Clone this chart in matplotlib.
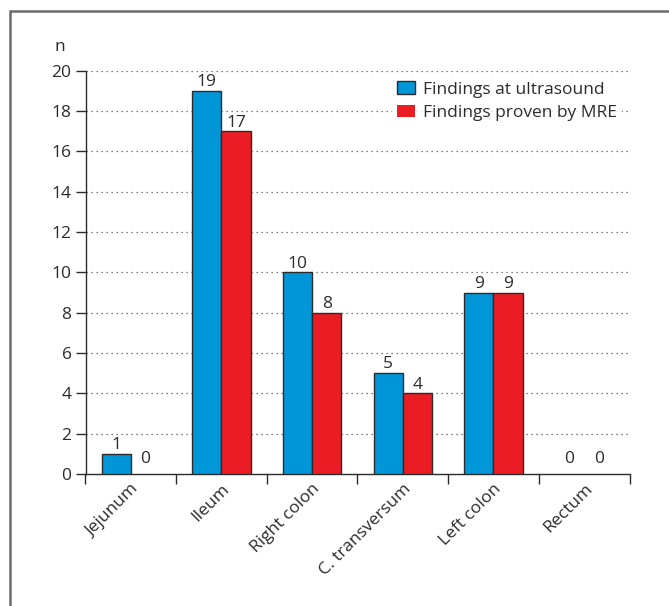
import numpy as np
import matplotlib
matplotlib.use('Agg')
import matplotlib.pyplot as plt
from matplotlib.patches import Rectangle

plt.rcParams['font.family'] = ['Open Sans', 'DejaVu Sans']

# data
segments = ['Jejunum', 'Ileum', 'Right colon', 'C. transversum', 'Left colon', 'Rectum']
ultrasound = [1, 19, 10, 5, 9, 0]
mre = [0, 17, 8, 4, 9, 0]
series_names = ['Findings at ultrasound', 'Findings proven by MRE']

blue = '#0096d8'
red = '#ec1c24'
ink = '#2b2b2b'
fs = 12.5

fig = plt.figure(figsize=(6.69, 6.06), dpi=100)
ax = fig.add_axes([85.5 / 669, 1 - 474 / 606, 544 / 669, 403.3 / 606])

# outer frame (runs off the right and bottom of the picture)
fig.patches.append(Rectangle((10 / 669, -0.1), 1.2, 1.1 - 11 / 606, transform=fig.transFigure,
                             fill=False, edgecolor='#6b6b6b', linewidth=1.8))

x = np.arange(len(segments))
w = 0.323
lw1 = [1.0 if v > 0 else 0 for v in ultrasound]
lw2 = [1.0 if v > 0 else 0 for v in mre]
b1 = ax.bar(x - w / 2, ultrasound, w, color=blue, edgecolor=ink, linewidth=lw1, zorder=3,
            label=series_names[0])
b2 = ax.bar(x + w / 2, mre, w, color=red, edgecolor=ink, linewidth=lw2, zorder=3,
            label=series_names[1])

for bars, vals in ((b1, ultrasound), (b2, mre)):
    for rect, v in zip(bars, vals):
        off = 5 if v == 0 else 0.5
        ax.annotate(str(v), (rect.get_x() + rect.get_width() / 2, v), xytext=(0, off),
                    textcoords='offset points', ha='center', va='bottom', fontsize=fs, color=ink)

ax.set_xlim(-0.5, len(segments) - 0.5)
ax.set_ylim(0, 20)
ax.set_yticks(np.arange(0, 21, 2))
for yv in np.arange(2, 21, 2):
    ax.axhline(yv, color='#555555', linestyle=(0, (1, 3)), linewidth=0.9,
               zorder=6 if yv == 20 else 1)

ax.set_xticks(np.arange(-0.5, len(segments), 1))
ax.set_xticklabels([])
ax.set_xticks(x, minor=True)
ax.set_xticklabels(segments, minor=True, rotation=45, ha='right', va='top',
                   rotation_mode='anchor', fontsize=fs, color=ink)
ax.tick_params(axis='x', which='minor', length=0, pad=5)
ax.tick_params(axis='x', which='major', length=7, width=1, color=ink, direction='out')
ax.tick_params(axis='y', length=7, width=1, color=ink, labelsize=fs, labelcolor=ink, pad=3)

for side in ('top', 'right'):
    ax.spines[side].set_visible(False)
for side in ('left', 'bottom'):
    ax.spines[side].set_color(ink)
    ax.spines[side].set_linewidth(1)

ax.text(-0.047, 1.059, 'n', transform=ax.transAxes, ha='center', va='center', fontsize=fs, color=ink)

leg = ax.legend(loc='upper left', bbox_to_anchor=(0.5635, 0.9865), frameon=True, fontsize=fs,
                handlelength=1.0, handleheight=0.72, handletextpad=0.46, labelspacing=0.4,
                borderaxespad=0, borderpad=0.3, fancybox=False)
leg.get_frame().set_facecolor('white')
leg.get_frame().set_edgecolor('none')
leg.set_zorder(5)
for t in leg.get_texts():
    t.set_color(ink)

fig.savefig('out.png', dpi=100)
